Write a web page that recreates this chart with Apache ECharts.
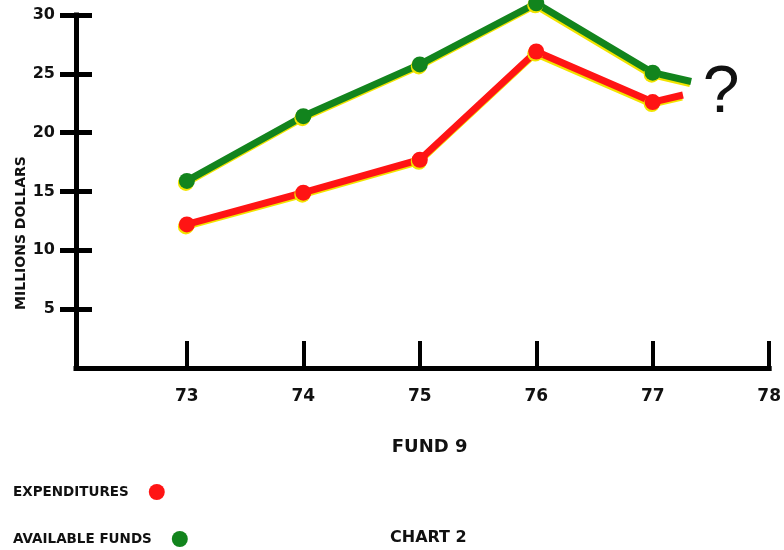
<!DOCTYPE html>
<html>
<head>
<meta charset="utf-8">
<script src="https://cdn.jsdelivr.net/npm/echarts@6/dist/echarts.min.js"></script>
<style>html,body{margin:0;padding:0;background:#fff;}#c{width:784px;height:550px;}</style>
</head>
<body>
<div id="c"></div>
<script>
// Data
const years = [73, 74, 75, 76, 77];
const xTicks = [73, 74, 75, 76, 77, 78];
const yTicks = [5, 10, 15, 20, 25, 30];
const expenditures = [12.2, 14.9, 17.7, 26.9, 22.6];
const availableFunds = [15.9, 21.4, 25.8, 31.0, 25.1];
// unfinished trailing segments (toward the "?")
const expTrail = [77.26, 23.2];
const fundsTrail = [77.33, 24.35];

const FONT = 'DejaVu Sans';
const chart = echarts.init(document.getElementById('c'));

function buildData(vals, trail) {
  const d = years.map((y, i) => [y, vals[i]]);
  d.push({ value: trail, symbol: 'none' });
  return d;
}

const shadow = { shadowColor: '#f2e400', shadowBlur: 0, shadowOffsetX: -1, shadowOffsetY: 2 };
const legendCommon = {
  orient: 'vertical', padding: 0, icon: 'circle', itemWidth: 16, itemHeight: 16,
  selectedMode: false, align: 'right',
  textStyle: { fontFamily: FONT, fontWeight: 'bold', fontSize: 13.5, color: '#111', padding: [0, 15, 0, 0] }
};

chart.setOption({
  backgroundColor: '#ffffff',
  animation: false,
  grid: { left: 76, right: 8, top: 15, bottom: 182, containLabel: false },
  xAxis: {
    type: 'value', min: 72.048, max: 78,
    name: 'FUND 9', nameLocation: 'middle', nameGap: 70,
    nameTextStyle: { fontFamily: FONT, fontWeight: 'bold', fontSize: 18, color: '#111', padding: [0, 0, 0, 14] },
    axisLine: { show: true, onZero: false, lineStyle: { color: '#000', width: 5, cap: 'square' } },
    axisTick: { show: true, inside: true, length: 27, customValues: xTicks, lineStyle: { color: '#000', width: 4 } },
    axisLabel: { customValues: xTicks, margin: 20, fontFamily: FONT, fontWeight: 'bold', fontSize: 17, color: '#111' },
    splitLine: { show: false }
  },
  yAxis: [{
    type: 'value', min: 0, max: 30,
    axisLine: { show: true, onZero: false, lineStyle: { color: '#000', width: 5, cap: 'square' } },
    axisTick: { show: true, inside: false, length: 16, customValues: yTicks, lineStyle: { color: '#000', width: 5 } },
    axisLabel: { customValues: yTicks, margin: 21, fontFamily: FONT, fontWeight: 'bold', fontSize: 16, color: '#111' },
    splitLine: { show: false }
  }, {
    type: 'value', min: 0, max: 30, position: 'left',
    axisLine: { show: false },
    axisTick: { show: true, inside: true, length: 16, customValues: yTicks, lineStyle: { color: '#000', width: 5 } },
    axisLabel: { show: false },
    splitLine: { show: false }
  }],
  legend: [
    Object.assign({ left: 13, top: 484, data: ['EXPENDITURES'] }, legendCommon),
    Object.assign({ left: 13, top: 531, data: ['AVAILABLE FUNDS'] }, legendCommon)
  ],
  series: [{
    name: 'EXPENDITURES', type: 'line', clip: false,
    data: buildData(expenditures, expTrail),
    symbol: 'circle', symbolSize: 16,
    lineStyle: Object.assign({ color: '#ff1414', width: 7 }, shadow),
    itemStyle: Object.assign({ color: '#ff1414' }, shadow),
    color: '#ff1414'
  }, {
    name: 'AVAILABLE FUNDS', type: 'line', clip: false,
    data: buildData(availableFunds, fundsTrail),
    symbol: 'circle', symbolSize: 16,
    lineStyle: Object.assign({ color: '#12841d', width: 7 }, shadow),
    itemStyle: Object.assign({ color: '#12841d' }, shadow),
    color: '#12841d'
  }],
  graphic: [{
    type: 'text', x: 21, y: 233, rotation: Math.PI / 2,
    style: { text: 'MILLIONS DOLLARS', fontFamily: FONT, fontWeight: 'bold', fontSize: 14, fill: '#111', align: 'center', verticalAlign: 'middle' }
  }, {
    type: 'text', left: 390, top: 530,
    style: { text: 'CHART 2', fontFamily: FONT, fontWeight: 'bold', fontSize: 16, fill: '#111' }
  }, {
    type: 'text', x: 721, y: 94,
    style: { text: '?', fontFamily: 'Liberation Sans', fontSize: 66, fill: '#111', align: 'center', verticalAlign: 'middle' }
  }]
});
</script>
</body>
</html>
